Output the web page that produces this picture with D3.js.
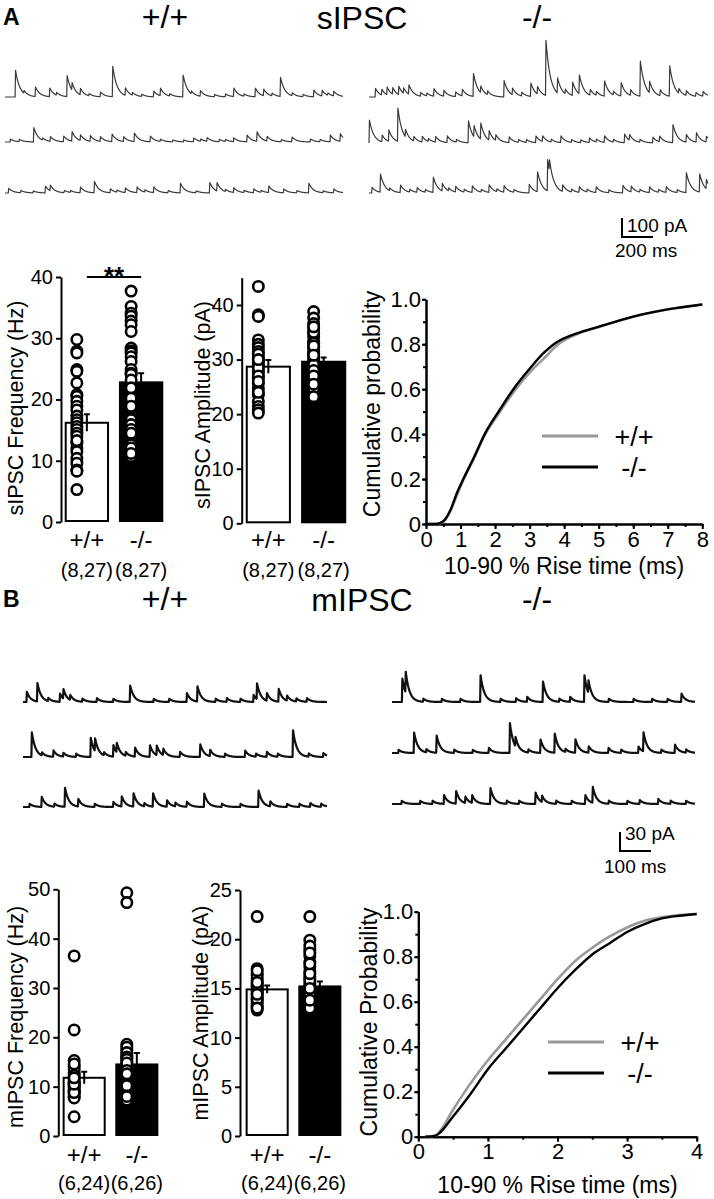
<!DOCTYPE html>
<html><head><meta charset="utf-8">
<script src="https://cdn.jsdelivr.net/npm/d3@7"></script>
<style>
body{margin:0;background:#fff}
svg{display:block}
text{font-family:"Liberation Sans",Arial,Helvetica,sans-serif;fill:#000}
</style>
</head><body>
<svg id="c" width="714" height="1199"></svg>
<script>
// ---------------- DATA ----------------
const groups = ["+/+", "-/-"];
const sNLabels = ["(8,27)", "(8,27)"];
const mNLabels = ["(6,24)", "(6,26)"];

// sIPSC frequency (Hz)
const sFreqMean = [16.2, 22.8];
const sFreqSem = [1.4, 1.5];
const sFreqWT = [29.8,27.9,27.6,24.9,24.6,22.7,20.8,20.5,19.7,18.9,18.3,17.3,16.7,16.2,15.6,15.1,14.5,14.0,12.9,12.1,11.5,10.4,9.6,8.5,8.3,5.3,13.3];
const sFreqKO = [37.7,35.2,34.1,33.6,32.8,32.2,31.1,28.4,27.9,27.6,27.0,26.2,24.9,24.3,24.1,23.2,21.9,20.2,18.9,16.7,15.9,15.1,14.5,12.6,12.1,10.7,11.2];
// sIPSC amplitude (pA)
const sAmpMean = [28.7, 29.6];
const sAmpSem = [1.2, 0.8];
const sAmpWT = [43.4,38.2,37.9,33.6,32.8,32.2,31.5,30.5,29.9,29.0,28.1,27.5,26.6,25.6,24.7,23.5,22.3,21.4,20.8,20.2,29.5,28.5,27.0,31.0,30.0,26.0,24.0];
const sAmpKO = [38.8,37.6,36.6,35.7,34.8,34.2,33.3,32.1,31.5,30.5,29.6,28.7,27.5,26.0,24.7,23.2,30.0,29.0,31.0,28.0,33.0,35.0,27.0,25.5,32.5,36.0,30.8];
// mIPSC frequency (Hz)
const mFreqMean = [11.8, 14.5];
const mFreqSem = [1.2, 2.3];
const mFreqWT = [36.5,21.5,15.3,14.1,12.8,11.4,10.0,9.0,8.0,3.9,13.5,12.0,10.7,9.5,8.5,11.0,12.3,10.3,9.2,7.7,8.8,10.5,14.6,11.8];
const mFreqKO = [49.3,47.3,18.6,17.4,16.4,15.1,13.7,11.4,9.0,7.3,18.0,16.9,15.8,14.4,13.0,12.2,10.6,9.8,8.4,16.0,15.5,14.8,13.3,12.6,10.2,8.0];
// mIPSC amplitude (pA)
const mAmpMean = [14.9, 15.2];
const mAmpSem = [0.4, 0.5];
const mAmpWT = [22.3,17.0,16.5,16.0,15.5,15.0,14.7,14.2,13.7,13.1,12.8,15.8,15.2,14.5,14.0,13.4,16.3,14.8,13.9,15.3,14.4,13.0,16.8,15.6];
const mAmpKO = [22.3,19.9,18.9,17.7,16.7,16.2,15.2,14.2,13.3,12.8,19.3,18.3,17.2,16.0,15.5,14.8,14.0,13.6,13.0,15.8,16.5,17.5,14.5,15.0,18.6,13.8];

// cumulative rise-time distributions [ms, probability]
const sCumWT = [[0,0],[0.3,0],[0.5,0.01],[0.7,0.055],[0.9,0.13],[1.08,0.195],[1.4,0.295],[1.7,0.395],[2.1,0.49],[2.55,0.59],[3.1,0.69],[3.5,0.75],[3.75,0.79],[4.5,0.853],[5,0.876],[6,0.922],[7,0.956],[8,0.977]];
const sCumKO = [[0,0],[0.3,0],[0.5,0.012],[0.7,0.06],[0.9,0.14],[1.08,0.2],[1.4,0.3],[1.7,0.4],[2.1,0.5],[2.53,0.6],[3.05,0.7],[3.4,0.76],[3.7,0.8],[4.5,0.855],[5,0.878],[6,0.923],[7,0.955],[8,0.977]];
const mCumWT = [[0.1,0],[0.25,0.005],[0.3,0.02],[0.5,0.12],[0.75,0.237],[1.0,0.34],[1.25,0.43],[1.5,0.52],[1.75,0.61],[2.0,0.7],[2.25,0.78],[2.5,0.84],[2.75,0.89],[3.0,0.93],[3.25,0.96],[3.5,0.975],[3.75,0.985],[4.0,0.99]];
const mCumKO = [[0.1,0],[0.25,0.005],[0.3,0.015],[0.5,0.09],[0.75,0.19],[1.0,0.3],[1.25,0.39],[1.5,0.48],[1.75,0.57],[2.0,0.66],[2.25,0.74],[2.5,0.81],[2.75,0.86],[3.0,0.91],[3.25,0.945],[3.5,0.97],[3.75,0.982],[4.0,0.99]];

// axis ticks
const sFreqTicks = [0,10,20,30,40];
const sAmpTicks = [0,10,20,30,40];
const mFreqTicks = [0,10,20,30,40,50];
const mAmpTicks = [0,5,10,15,20,25];
const sCumXTicks = [0,1,2,3,4,5,6,7,8];
const mCumXTicks = [0,1,2,3,4];
const cumYTicks = [0,0.2,0.4,0.6,0.8,1.0];

// example traces: events [time ms, amplitude pA]
const sDuration = 2180, mDuration = 980;
const sWT1 = [[65,140],[194,50],[286,45],[398,110],[430,40],[484,35],[613,25],[692,160],[774,40],[957,30],[1000,40],[1146,115],[1258,30],[1473,45],[1612,45],[1666,35],[1774,100],[1989,35],[2043,30],[2118,25],[120,15],[330,15],[540,12],[820,15],[880,12],[1060,12],[1200,15],[1350,12],[1420,15],[1540,12],[1720,15],[1850,15],[1920,12],[2080,12]];
const sWT2 = [[32,15],[183,75],[290,25],[376,30],[430,50],[484,30],[548,30],[613,25],[688,40],[763,25],[832,45],[935,30],[1215,20],[1301,20],[1473,20],[1559,35],[1623,50],[1688,25],[1849,25],[1967,15],[2096,35],[2160,40],[90,12],[240,12],[1000,12],[1080,10],[1150,10],[1260,12],[1380,12],[1420,10],[1780,12],[2030,12]];
const sWT3 = [[21,25],[258,35],[290,30],[484,30],[574,60],[677,20],[774,25],[849,30],[957,30],[1129,50],[1318,55],[1365,45],[1473,25],[1602,20],[1699,35],[1795,20],[1957,50],[2118,20],[100,12],[180,10],[380,12],[420,10],[720,12],[900,12],[1050,12],[1230,10],[1420,12],[1540,12],[1650,10],[1880,12],[2050,10]];
const sKO1 = [[39,45],[80,30],[114,40],[150,35],[189,45],[220,30],[254,50],[415,40],[479,30],[555,25],[598,35],[669,120],[716,35],[866,85],[920,35],[1038,70],[1081,40],[1135,290],[1210,80],[1307,70],[1350,100],[1420,30],[1512,80],[1619,70],[1680,30],[1742,185],[1802,60],[1870,30],[1931,160],[1990,25],[2038,25],[2100,20],[2146,25],[330,20],[370,15],[760,20],[980,20],[1260,25],[1460,20],[1570,20]];
const sKO2 = [[0,120],[82,35],[125,60],[183,175],[232,40],[286,25],[340,30],[426,30],[501,35],[637,115],[673,60],[716,85],[770,50],[813,30],[899,30],[1071,35],[1114,30],[1232,35],[1415,25],[1512,35],[1641,45],[1673,30],[1823,30],[1866,30],[1952,95],[2038,40],[2103,50],[2167,30],[380,15],[560,15],[960,15],[1010,15],[1170,15],[1300,15],[1360,15],[1460,15],[1570,15],[1740,15]];
const sKO3 = [[17,30],[71,95],[200,40],[307,25],[411,80],[469,40],[555,30],[662,35],[770,40],[866,35],[1028,45],[1081,105],[1146,165],[1158,60],[1243,35],[1350,30],[1458,30],[1630,40],[1684,30],[1802,30],[1909,30],[2038,105],[2124,95],[2167,50],[130,15],[260,15],[360,15],[510,15],[610,15],[720,15],[820,15],[930,15],[1300,15],[1400,15],[1540,15],[1740,15],[1860,15],[1980,15]];
const mWT1 = [[11,16],[45,29],[118,13],[129,15],[151,8],[237,6],[344,26],[527,14],[561,24],[656,6],[742,11],[753,25],[785,12],[823,20],[850,8],[914,6],[80,5],[190,5],[290,5],[420,5],[470,5],[620,5],[700,5],[880,5]];
const mWT2 = [[27,39],[97,10],[129,6],[217,30],[231,20],[290,18],[301,15],[360,14],[408,18],[430,15],[451,10],[505,8],[570,20],[602,10],[715,10],[785,8],[869,42],[967,6],[60,5],[170,5],[260,5],[330,6],[650,5],[750,5],[820,5],[920,5]];
const mWT3 = [[59,16],[134,30],[177,12],[290,8],[317,16],[355,21],[418,21],[463,10],[527,8],[583,21],[758,26],[796,8],[925,6],[20,5],[100,5],[230,5],[390,5],[490,6],[640,5],[700,5],[850,5],[890,5],[960,5]];
const mKO1 = [[32,37],[43,33],[285,42],[436,8],[487,32],[575,8],[621,42],[634,20],[935,13],[100,5],[160,5],[220,5],[350,5],[400,6],[540,5],[700,5],[780,5],[840,5],[890,5]];
const mKO2 = [[70,32],[143,27],[312,8],[380,47],[398,15],[479,21],[525,30],[592,21],[635,10],[699,8],[796,10],[812,30],[914,13],[20,5],[110,5],[200,5],[260,5],[440,5],[560,5],[740,5],[870,5],[950,5]];
const mKO3 = [[167,14],[206,20],[236,10],[258,12],[317,25],[463,18],[484,10],[624,14],[648,25],[860,8],[30,5],[90,5],[130,5],[370,5],[410,5],[530,5],[580,5],[700,5],[760,5],[800,6],[900,5],[950,5]];
const sScale = {pA: 100, ms: 200};
const mScale = {pA: 30, ms: 100};

// ---------------- DRAWING ----------------
const svg = d3.select("#c");
const FONT = '"Liberation Sans",Arial,Helvetica,sans-serif';

function txt(x, y, s, size, opts = {}) {
  const t = svg.append("text").attr("x", x).attr("y", y).text(s)
    .attr("font-size", size).attr("text-anchor", opts.anchor || "middle");
  if (opts.bold) t.attr("font-weight", "bold");
  if (opts.rotate) t.attr("transform", `rotate(-90,${x},${y})`).attr("dy", "0.35em");
  return t;
}

function styleAxis(g, fs) {
  g.selectAll("path.domain").attr("stroke", "#000").attr("stroke-width", 2);
  g.selectAll(".tick line").attr("stroke", "#000").attr("stroke-width", 2);
  g.selectAll(".tick text").attr("font-size", fs).attr("font-family", FONT).attr("fill", "#000");
}

// trace builder
function drawTrace(events, x0, x1, baseY, duration, pxPerPA, tau, rise, dt, sw, col) {
  const xs = d3.scaleLinear().domain([0, duration]).range([x0, x1]);
  const ys = d3.scaleLinear().domain([0, 100]).range([baseY, baseY - 100 * pxPerPA]);
  const pts = [];
  for (let t = 0; t <= duration; t += dt) {
    let v = 0;
    for (const [te, a] of events) {
      const d = t - te;
      if (d < 0) continue;
      v += d < rise ? a * d / rise : a * Math.exp(-(d - rise) / tau);
    }
    pts.push([t, v]);
  }
  svg.append("path").datum(pts)
    .attr("d", d3.line().x(d => xs(d[0])).y(d => ys(d[1])))
    .attr("fill", "none").attr("stroke", col).attr("stroke-width", sw)
    .attr("stroke-linejoin", "round");
  return {xs, ys};
}

function scaleBar(xLeft, yBottom, sc, pxPerPA, pxPerMs, lab1, lab2, l1y, l2x, l2y) {
  const h = sc.pA * pxPerPA, w = sc.ms * pxPerMs;
  svg.append("path").attr("d", `M${xLeft},${yBottom - h}V${yBottom}H${xLeft + w}`)
    .attr("fill", "none").attr("stroke", "#000").attr("stroke-width", 2);
  txt(xLeft + 5, l1y, lab1, 19, {anchor: "start"});
  txt(l2x, l2y, lab2, 19, {anchor: "start"});
}

// ---- Panel A traces
const sPx = 19 / 100;
const sLeft = [5, 343], sRight = [369, 708];
[[sWT1, 97], [sWT2, 142], [sWT3, 193]].forEach(([ev, y]) => drawTrace(ev, sLeft[0], sLeft[1], y, sDuration, sPx, 28, 3, 1, 1.2, "#3a3a3a"));
[[sKO1, 97], [sKO2, 143], [sKO3, 193]].forEach(([ev, y]) => drawTrace(ev, sRight[0], sRight[1], y, sDuration, sPx, 28, 3, 1, 1.2, "#3a3a3a"));
scaleBar(622, 237, sScale, sPx, (sLeft[1] - sLeft[0]) / sDuration, "100 pA", "200 ms", 232, 615, 257);

// ---- Panel B traces
const mPx = 19 / 30;
const mLeft = [23, 327], mRight = [392, 695];
[[mWT1, 702], [mWT2, 757], [mWT3, 807]].forEach(([ev, y]) => drawTrace(ev, mLeft[0], mLeft[1], y, mDuration, mPx, 12, 1.5, 0.5, 2.2, "#111"));
[[mKO1, 702], [mKO2, 753], [mKO3, 804]].forEach(([ev, y]) => drawTrace(ev, mRight[0], mRight[1], y, mDuration, mPx, 12, 1.5, 0.5, 2.2, "#111"));
scaleBar(620, 851, mScale, mPx, (mLeft[1] - mLeft[0]) / mDuration, "30 pA", "100 ms", 840, 604, 873);

// ---- headers
txt(3, 25, "A", 23, {anchor: "start", bold: true});
txt(165, 28, "+/+", 32); txt(362, 29, "sIPSC", 32); txt(537, 28, "-/-", 32);
txt(3, 607, "B", 23, {anchor: "start", bold: true});
txt(165, 610, "+/+", 32); txt(362, 611, "mIPSC", 32); txt(537, 610, "-/-", 32);

// ---- bar charts
function barChart(o) {
  const y = d3.scaleLinear().domain([0, o.max]).range([o.y0, o.yTop]);
  const x = d3.scaleBand().domain(groups).range(o.band).paddingInner(0.22).paddingOuter(0.05);
  const g = svg.append("g").attr("transform", `translate(${o.axisX},0)`)
    .call(d3.axisLeft(y).tickValues(o.ticks).tickSize(5).tickPadding(3).tickSizeOuter(0).tickFormat(d3.format("d")));
  styleAxis(g, 20);
  groups.forEach((gr, i) => {
    const bx = x(gr), bw = x.bandwidth(), cx = bx + bw / 2;
    svg.append("rect").attr("x", bx).attr("y", y(o.mean[i])).attr("width", bw)
      .attr("height", y(0) - y(o.mean[i]) - 1)
      .attr("fill", i === 0 ? "#fff" : "#000").attr("stroke", "#000").attr("stroke-width", 2);
    svg.append("path").attr("d", `M${cx},${y(o.mean[i] - o.sem[i])}V${y(o.mean[i] + o.sem[i])}M${cx - 3},${y(o.mean[i] + o.sem[i])}H${cx + 3}`)
      .attr("stroke", "#000").attr("stroke-width", 2).attr("fill", "none");
    svg.selectAll(null).data(o.dots[i]).enter().append("circle")
      .attr("cx", cx - 10).attr("cy", d => y(d)).attr("r", 5.2)
      .attr("fill", "#fff").attr("stroke", "#000").attr("stroke-width", 2.6);
    txt(cx, o.labY, gr, 24);
    txt(cx, o.nY, o.nLab[i], 20);
  });
  txt(o.titleX, o.titleY, o.title, 21.5, {rotate: true});
  return {x, y};
}

const fA = barChart({axisX: 61, y0: 522, yTop: 277, max: 40, ticks: sFreqTicks, band: [63, 165],
  mean: sFreqMean, sem: sFreqSem, dots: [sFreqWT, sFreqKO], labY: 548, nY: 577, nLab: sNLabels,
  title: "sIPSC Frequency (Hz)", titleX: 15, titleY: 408});
// significance bar
{
  const c0 = fA.x(groups[0]) + fA.x.bandwidth() / 2, c1 = fA.x(groups[1]) + fA.x.bandwidth() / 2;
  svg.append("line").attr("x1", c0).attr("x2", c1).attr("y1", 277).attr("y2", 277).attr("stroke", "#000").attr("stroke-width", 2);
  txt((c0 + c1) / 2, 285, "**", 26, {bold: true});
}
barChart({axisX: 241.7, y0: 523.3, yTop: 277.7, max: 45, ticks: sAmpTicks, band: [244, 348],
  mean: sAmpMean, sem: sAmpSem, dots: [sAmpWT, sAmpKO], labY: 548, nY: 577, nLab: sNLabels,
  title: "sIPSC Amplitude (pA)", titleX: 202, titleY: 405});
barChart({axisX: 58.3, y0: 1136, yTop: 889.3, max: 50, ticks: mFreqTicks, band: [61, 160],
  mean: mFreqMean, sem: mFreqSem, dots: [mFreqWT, mFreqKO], labY: 1163, nY: 1190, nLab: mNLabels,
  title: "mIPSC Frequency (Hz)", titleX: 15, titleY: 1017});
barChart({axisX: 240, y0: 1136, yTop: 890, max: 25, ticks: mAmpTicks, band: [244, 343],
  mean: mAmpMean, sem: mAmpSem, dots: [mAmpWT, mAmpKO], labY: 1163, nY: 1190, nLab: mNLabels,
  title: "mIPSC Amplitude (pA)", titleX: 200, titleY: 1013});

// ---- cumulative plots
function cumChart(o) {
  const x = d3.scaleLinear().domain([0, o.xmax]).range([o.x0, o.x1]);
  const y = d3.scaleLinear().domain([0, 1]).range([o.y0, o.y1]);
  const minorX = d3.range(0, o.xmax + 0.001, 0.5);
  const minorY = d3.range(0, 1.001, 0.1);
  const gx2 = svg.append("g").attr("transform", `translate(0,${o.y0})`)
    .call(d3.axisBottom(x).tickValues(minorX).tickSize(3).tickFormat("").tickSizeOuter(0));
  styleAxis(gx2, 22);
  const gy2 = svg.append("g").attr("transform", `translate(${o.x0},0)`)
    .call(d3.axisLeft(y).tickValues(minorY).tickSize(3).tickFormat("").tickSizeOuter(0));
  styleAxis(gy2, 22);
  const gx = svg.append("g").attr("transform", `translate(0,${o.y0})`)
    .call(d3.axisBottom(x).tickValues(o.xticks).tickSize(5).tickPadding(2).tickSizeOuter(0).tickFormat(d3.format("d")));
  styleAxis(gx, 22);
  const gy = svg.append("g").attr("transform", `translate(${o.x0},0)`)
    .call(d3.axisLeft(y).tickValues(cumYTicks).tickSize(4).tickPadding(1).tickSizeOuter(0)
      .tickFormat(d => d === 0 ? "0" : d3.format(".1f")(d)));
  styleAxis(gy, 22);
  const line = d3.line().x(d => x(d[0])).y(d => y(d[1])).curve(d3.curveMonotoneX);
  svg.append("path").datum(o.wt).attr("d", line).attr("fill", "none").attr("stroke", "#999").attr("stroke-width", 2.6);
  svg.append("path").datum(o.ko).attr("d", line).attr("fill", "none").attr("stroke", "#000").attr("stroke-width", 2.4);
  // legend
  svg.append("line").attr("x1", o.lx).attr("x2", o.lx + 56).attr("y1", o.ly).attr("y2", o.ly).attr("stroke", "#999").attr("stroke-width", 3);
  svg.append("line").attr("x1", o.lx).attr("x2", o.lx + 56).attr("y1", o.ly + 31).attr("y2", o.ly + 31).attr("stroke", "#000").attr("stroke-width", 3);
  txt(o.lx + 92, o.ly + 10, "+/+", 27);
  txt(o.lx + 92, o.ly + 41, "-/-", 27);
  txt(o.tx, o.ty, o.ylab, 23, {rotate: true});
  txt((o.x0 + o.x1) / 2, o.xly, "10-90 % Rise time (ms)", 23);
}
cumChart({x0: 426, x1: 702.3, y0: 524, y1: 299.3, xmax: 8, xticks: sCumXTicks, wt: sCumWT, ko: sCumKO,
  lx: 542, ly: 436, ylab: "Cumulative probability", tx: 372, ty: 404, xly: 574});
cumChart({x0: 418.3, x1: 696.7, y0: 1136.7, y1: 911.7, xmax: 4, xticks: mCumXTicks, wt: mCumWT, ko: mCumKO,
  lx: 548, ly: 1042, ylab: "Cumulative Probability", tx: 369, ty: 1022, xly: 1193});
</script>
</body></html>
